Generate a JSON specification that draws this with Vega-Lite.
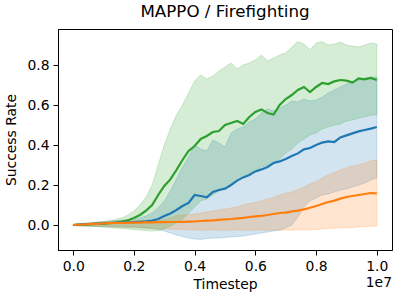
{
"$schema": "https://vega.github.io/schema/vega-lite/v6.json",
"width": 334, "height": 221,
"autosize": {"type": "none"},
"padding": {"left": 58, "top": 29, "right": 8, "bottom": 50},
"background": "white",
"title": {"text": "MAPPO / Firefighting", "fontSize": 16.7, "font": "DejaVu Sans", "fontWeight": "normal", "color": "black", "offset": 8},
"config": {
  "view": {"stroke": "black", "strokeWidth": 1},
  "axis": {"labelFont": "DejaVu Sans", "titleFont": "DejaVu Sans", "labelFontSize": 13.9, "titleFontSize": 13.9, "labelColor": "black", "titleColor": "black", "titleFontWeight": "normal", "tickColor": "black", "domainColor": "black", "tickSize": 5, "grid": false, "labelPadding": 4}
},
"datasets": {"runs": [
{"t":0,"s":"A","m":0,"lo":-0.003,"hi":0.003},
{"t":200000,"s":"A","m":0.002,"lo":-0.004,"hi":0.006},
{"t":400000,"s":"A","m":0.004,"lo":-0.005,"hi":0.009},
{"t":600000,"s":"A","m":0.005,"lo":-0.006,"hi":0.012},
{"t":800000,"s":"A","m":0.007,"lo":-0.007,"hi":0.015},
{"t":1000000,"s":"A","m":0.008,"lo":-0.008,"hi":0.018},
{"t":1200000,"s":"A","m":0.010,"lo":-0.008,"hi":0.020},
{"t":1400000,"s":"A","m":0.011,"lo":-0.009,"hi":0.022},
{"t":1600000,"s":"A","m":0.012,"lo":-0.009,"hi":0.024},
{"t":1800000,"s":"A","m":0.013,"lo":-0.010,"hi":0.026},
{"t":2000000,"s":"A","m":0.014,"lo":-0.010,"hi":0.028},
{"t":2200000,"s":"A","m":0.016,"lo":-0.012,"hi":0.035},
{"t":2400000,"s":"A","m":0.018,"lo":-0.015,"hi":0.045},
{"t":2600000,"s":"A","m":0.022,"lo":-0.018,"hi":0.060},
{"t":2800000,"s":"A","m":0.030,"lo":-0.022,"hi":0.085},
{"t":3000000,"s":"A","m":0.045,"lo":-0.030,"hi":0.120},
{"t":3200000,"s":"A","m":0.058,"lo":-0.040,"hi":0.170},
{"t":3400000,"s":"A","m":0.075,"lo":-0.050,"hi":0.230},
{"t":3600000,"s":"A","m":0.095,"lo":-0.058,"hi":0.290},
{"t":3800000,"s":"A","m":0.110,"lo":-0.065,"hi":0.340},
{"t":4000000,"s":"A","m":0.150,"lo":-0.070,"hi":0.400},
{"t":4200000,"s":"A","m":0.145,"lo":-0.072,"hi":0.380},
{"t":4400000,"s":"A","m":0.138,"lo":-0.068,"hi":0.370},
{"t":4600000,"s":"A","m":0.165,"lo":-0.065,"hi":0.425},
{"t":4800000,"s":"A","m":0.175,"lo":-0.065,"hi":0.410},
{"t":5000000,"s":"A","m":0.182,"lo":-0.062,"hi":0.390},
{"t":5200000,"s":"A","m":0.200,"lo":-0.060,"hi":0.460},
{"t":5400000,"s":"A","m":0.222,"lo":-0.058,"hi":0.480},
{"t":5600000,"s":"A","m":0.238,"lo":-0.055,"hi":0.490},
{"t":5800000,"s":"A","m":0.250,"lo":-0.050,"hi":0.515},
{"t":6000000,"s":"A","m":0.268,"lo":-0.045,"hi":0.530},
{"t":6200000,"s":"A","m":0.278,"lo":-0.040,"hi":0.560},
{"t":6400000,"s":"A","m":0.290,"lo":-0.035,"hi":0.580},
{"t":6600000,"s":"A","m":0.310,"lo":-0.030,"hi":0.570},
{"t":6800000,"s":"A","m":0.318,"lo":-0.025,"hi":0.585},
{"t":7000000,"s":"A","m":0.330,"lo":-0.015,"hi":0.600},
{"t":7200000,"s":"A","m":0.345,"lo":0.000,"hi":0.620},
{"t":7400000,"s":"A","m":0.358,"lo":0.040,"hi":0.615},
{"t":7600000,"s":"A","m":0.378,"lo":0.090,"hi":0.630},
{"t":7800000,"s":"A","m":0.385,"lo":0.120,"hi":0.620},
{"t":8000000,"s":"A","m":0.400,"lo":0.135,"hi":0.625},
{"t":8200000,"s":"A","m":0.412,"lo":0.150,"hi":0.640},
{"t":8400000,"s":"A","m":0.418,"lo":0.155,"hi":0.660},
{"t":8600000,"s":"A","m":0.415,"lo":0.165,"hi":0.675},
{"t":8800000,"s":"A","m":0.438,"lo":0.175,"hi":0.690},
{"t":9000000,"s":"A","m":0.448,"lo":0.180,"hi":0.705},
{"t":9200000,"s":"A","m":0.458,"lo":0.190,"hi":0.715},
{"t":9400000,"s":"A","m":0.468,"lo":0.200,"hi":0.725},
{"t":9600000,"s":"A","m":0.475,"lo":0.210,"hi":0.735},
{"t":9800000,"s":"A","m":0.482,"lo":0.225,"hi":0.740},
{"t":10000000,"s":"A","m":0.490,"lo":0.235,"hi":0.740},
{"t":0,"s":"B","m":0,"lo":-0.003,"hi":0.003},
{"t":200000,"s":"B","m":0.002,"lo":-0.004,"hi":0.006},
{"t":400000,"s":"B","m":0.003,"lo":-0.005,"hi":0.009},
{"t":600000,"s":"B","m":0.005,"lo":-0.006,"hi":0.012},
{"t":800000,"s":"B","m":0.006,"lo":-0.007,"hi":0.014},
{"t":1000000,"s":"B","m":0.008,"lo":-0.008,"hi":0.016},
{"t":1200000,"s":"B","m":0.009,"lo":-0.009,"hi":0.018},
{"t":1400000,"s":"B","m":0.010,"lo":-0.010,"hi":0.019},
{"t":1600000,"s":"B","m":0.011,"lo":-0.011,"hi":0.020},
{"t":1800000,"s":"B","m":0.011,"lo":-0.012,"hi":0.021},
{"t":2000000,"s":"B","m":0.012,"lo":-0.012,"hi":0.022},
{"t":2200000,"s":"B","m":0.012,"lo":-0.014,"hi":0.022},
{"t":2400000,"s":"B","m":0.013,"lo":-0.016,"hi":0.023},
{"t":2600000,"s":"B","m":0.013,"lo":-0.017,"hi":0.024},
{"t":2800000,"s":"B","m":0.014,"lo":-0.018,"hi":0.025},
{"t":3000000,"s":"B","m":0.014,"lo":-0.020,"hi":0.027},
{"t":3200000,"s":"B","m":0.015,"lo":-0.021,"hi":0.035},
{"t":3400000,"s":"B","m":0.015,"lo":-0.022,"hi":0.048},
{"t":3600000,"s":"B","m":0.016,"lo":-0.023,"hi":0.050},
{"t":3800000,"s":"B","m":0.017,"lo":-0.024,"hi":0.052},
{"t":4000000,"s":"B","m":0.018,"lo":-0.025,"hi":0.055},
{"t":4200000,"s":"B","m":0.020,"lo":-0.025,"hi":0.060},
{"t":4400000,"s":"B","m":0.022,"lo":-0.026,"hi":0.065},
{"t":4600000,"s":"B","m":0.023,"lo":-0.025,"hi":0.070},
{"t":4800000,"s":"B","m":0.026,"lo":-0.026,"hi":0.075},
{"t":5000000,"s":"B","m":0.028,"lo":-0.025,"hi":0.080},
{"t":5200000,"s":"B","m":0.030,"lo":-0.026,"hi":0.085},
{"t":5400000,"s":"B","m":0.033,"lo":-0.025,"hi":0.090},
{"t":5600000,"s":"B","m":0.036,"lo":-0.026,"hi":0.100},
{"t":5800000,"s":"B","m":0.040,"lo":-0.025,"hi":0.108},
{"t":6000000,"s":"B","m":0.043,"lo":-0.026,"hi":0.112},
{"t":6200000,"s":"B","m":0.046,"lo":-0.025,"hi":0.120},
{"t":6400000,"s":"B","m":0.050,"lo":-0.026,"hi":0.130},
{"t":6600000,"s":"B","m":0.055,"lo":-0.025,"hi":0.138},
{"t":6800000,"s":"B","m":0.060,"lo":-0.026,"hi":0.150},
{"t":7000000,"s":"B","m":0.062,"lo":-0.025,"hi":0.160},
{"t":7200000,"s":"B","m":0.068,"lo":-0.026,"hi":0.165},
{"t":7400000,"s":"B","m":0.072,"lo":-0.025,"hi":0.178},
{"t":7600000,"s":"B","m":0.078,"lo":-0.025,"hi":0.190},
{"t":7800000,"s":"B","m":0.086,"lo":-0.024,"hi":0.205},
{"t":8000000,"s":"B","m":0.095,"lo":-0.022,"hi":0.217},
{"t":8200000,"s":"B","m":0.105,"lo":-0.020,"hi":0.235},
{"t":8400000,"s":"B","m":0.115,"lo":-0.018,"hi":0.250},
{"t":8600000,"s":"B","m":0.122,"lo":-0.016,"hi":0.262},
{"t":8800000,"s":"B","m":0.132,"lo":-0.015,"hi":0.275},
{"t":9000000,"s":"B","m":0.140,"lo":-0.014,"hi":0.285},
{"t":9200000,"s":"B","m":0.145,"lo":-0.012,"hi":0.295},
{"t":9400000,"s":"B","m":0.150,"lo":-0.010,"hi":0.300},
{"t":9600000,"s":"B","m":0.155,"lo":-0.008,"hi":0.310},
{"t":9800000,"s":"B","m":0.160,"lo":-0.006,"hi":0.320},
{"t":10000000,"s":"B","m":0.158,"lo":-0.005,"hi":0.325},
{"t":0,"s":"C","m":0,"lo":-0.003,"hi":0.003},
{"t":200000,"s":"C","m":0.001,"lo":-0.004,"hi":0.005},
{"t":400000,"s":"C","m":0.002,"lo":-0.005,"hi":0.008},
{"t":600000,"s":"C","m":0.004,"lo":-0.006,"hi":0.011},
{"t":800000,"s":"C","m":0.005,"lo":-0.008,"hi":0.013},
{"t":1000000,"s":"C","m":0.007,"lo":-0.010,"hi":0.016},
{"t":1200000,"s":"C","m":0.009,"lo":-0.012,"hi":0.020},
{"t":1400000,"s":"C","m":0.012,"lo":-0.015,"hi":0.028},
{"t":1600000,"s":"C","m":0.017,"lo":-0.018,"hi":0.035},
{"t":1800000,"s":"C","m":0.024,"lo":-0.020,"hi":0.050},
{"t":2000000,"s":"C","m":0.035,"lo":-0.022,"hi":0.070},
{"t":2200000,"s":"C","m":0.050,"lo":-0.025,"hi":0.100},
{"t":2400000,"s":"C","m":0.072,"lo":-0.028,"hi":0.140},
{"t":2600000,"s":"C","m":0.100,"lo":-0.030,"hi":0.200},
{"t":2800000,"s":"C","m":0.150,"lo":-0.028,"hi":0.300},
{"t":3000000,"s":"C","m":0.195,"lo":-0.020,"hi":0.400},
{"t":3200000,"s":"C","m":0.228,"lo":-0.005,"hi":0.480},
{"t":3400000,"s":"C","m":0.275,"lo":0.010,"hi":0.550},
{"t":3600000,"s":"C","m":0.325,"lo":0.030,"hi":0.600},
{"t":3800000,"s":"C","m":0.370,"lo":0.060,"hi":0.660},
{"t":4000000,"s":"C","m":0.395,"lo":0.090,"hi":0.720},
{"t":4200000,"s":"C","m":0.430,"lo":0.120,"hi":0.750},
{"t":4400000,"s":"C","m":0.445,"lo":0.130,"hi":0.730},
{"t":4600000,"s":"C","m":0.465,"lo":0.150,"hi":0.745},
{"t":4800000,"s":"C","m":0.470,"lo":0.170,"hi":0.770},
{"t":5000000,"s":"C","m":0.500,"lo":0.180,"hi":0.790},
{"t":5200000,"s":"C","m":0.510,"lo":0.200,"hi":0.810},
{"t":5400000,"s":"C","m":0.520,"lo":0.220,"hi":0.780},
{"t":5600000,"s":"C","m":0.505,"lo":0.240,"hi":0.800},
{"t":5800000,"s":"C","m":0.540,"lo":0.260,"hi":0.810},
{"t":6000000,"s":"C","m":0.565,"lo":0.270,"hi":0.825},
{"t":6200000,"s":"C","m":0.578,"lo":0.290,"hi":0.850},
{"t":6400000,"s":"C","m":0.560,"lo":0.300,"hi":0.820},
{"t":6600000,"s":"C","m":0.552,"lo":0.310,"hi":0.835},
{"t":6800000,"s":"C","m":0.600,"lo":0.330,"hi":0.850},
{"t":7000000,"s":"C","m":0.630,"lo":0.360,"hi":0.860},
{"t":7200000,"s":"C","m":0.650,"lo":0.380,"hi":0.890},
{"t":7400000,"s":"C","m":0.675,"lo":0.410,"hi":0.917},
{"t":7600000,"s":"C","m":0.690,"lo":0.430,"hi":0.905},
{"t":7800000,"s":"C","m":0.665,"lo":0.450,"hi":0.875},
{"t":8000000,"s":"C","m":0.690,"lo":0.460,"hi":0.910},
{"t":8200000,"s":"C","m":0.710,"lo":0.480,"hi":0.917},
{"t":8400000,"s":"C","m":0.705,"lo":0.490,"hi":0.900},
{"t":8600000,"s":"C","m":0.718,"lo":0.500,"hi":0.905},
{"t":8800000,"s":"C","m":0.725,"lo":0.505,"hi":0.915},
{"t":9000000,"s":"C","m":0.722,"lo":0.520,"hi":0.900},
{"t":9200000,"s":"C","m":0.712,"lo":0.525,"hi":0.895},
{"t":9400000,"s":"C","m":0.733,"lo":0.535,"hi":0.890},
{"t":9600000,"s":"C","m":0.728,"lo":0.540,"hi":0.900},
{"t":9800000,"s":"C","m":0.735,"lo":0.550,"hi":0.910},
{"t":10000000,"s":"C","m":0.725,"lo":0.550,"hi":0.905}
],
"offset": [{"label": "1e7"}]
},
"layer": [
  {"data": {"name": "runs"},
   "mark": {"type": "area", "fillOpacity": 0.2, "strokeOpacity": 0.2, "strokeWidth": 1},
   "encoding": {
     "x": {"field": "t", "type": "quantitative", "scale": {"domain": [-500000, 10500000], "nice": false, "zero": false},
           "axis": {"values": [0, 2000000, 4000000, 6000000, 8000000, 10000000], "labelExpr": "format(datum.value/1e7, '.1f')", "title": "Timestep", "titlePadding": 5}},
     "y": {"field": "lo", "type": "quantitative", "scale": {"domain": [-0.125, 0.98], "nice": false, "zero": false},
           "axis": {"values": [0, 0.2, 0.4, 0.6, 0.8], "format": ".1f", "title": "Success Rate", "titlePadding": 8}},
     "y2": {"field": "hi"},
     "color": {"field": "s", "type": "nominal", "scale": {"domain": ["A", "B", "C"], "range": ["#1f77b4", "#ff7f0e", "#2ca02c"]}, "legend": null},
     "stroke": {"field": "s", "type": "nominal", "scale": {"domain": ["A", "B", "C"], "range": ["#1f77b4", "#ff7f0e", "#2ca02c"]}, "legend": null}
   }},
  {"data": {"name": "runs"}, "transform": [{"filter": "datum.s === 'C'"}],
   "mark": {"type": "line", "strokeWidth": 2.2},
   "encoding": {"x": {"field": "t", "type": "quantitative"}, "y": {"field": "m", "type": "quantitative"}, "color": {"field": "s", "type": "nominal", "legend": null}}},
  {"data": {"name": "runs"}, "transform": [{"filter": "datum.s === 'A'"}],
   "mark": {"type": "line", "strokeWidth": 2.2},
   "encoding": {"x": {"field": "t", "type": "quantitative"}, "y": {"field": "m", "type": "quantitative"}, "color": {"field": "s", "type": "nominal", "legend": null}}},
  {"data": {"name": "runs"}, "transform": [{"filter": "datum.s === 'B'"}],
   "mark": {"type": "line", "strokeWidth": 2.2},
   "encoding": {"x": {"field": "t", "type": "quantitative"}, "y": {"field": "m", "type": "quantitative"}, "color": {"field": "s", "type": "nominal", "legend": null}}},
  {"data": {"name": "offset"},
   "mark": {"type": "text", "align": "right", "baseline": "middle", "font": "DejaVu Sans", "fontSize": 13.9, "color": "black"},
   "encoding": {"x": {"datum": 10500000, "type": "quantitative"}, "y": {"datum": -0.29, "type": "quantitative"}, "text": {"field": "label", "type": "nominal"}}}
]
}
